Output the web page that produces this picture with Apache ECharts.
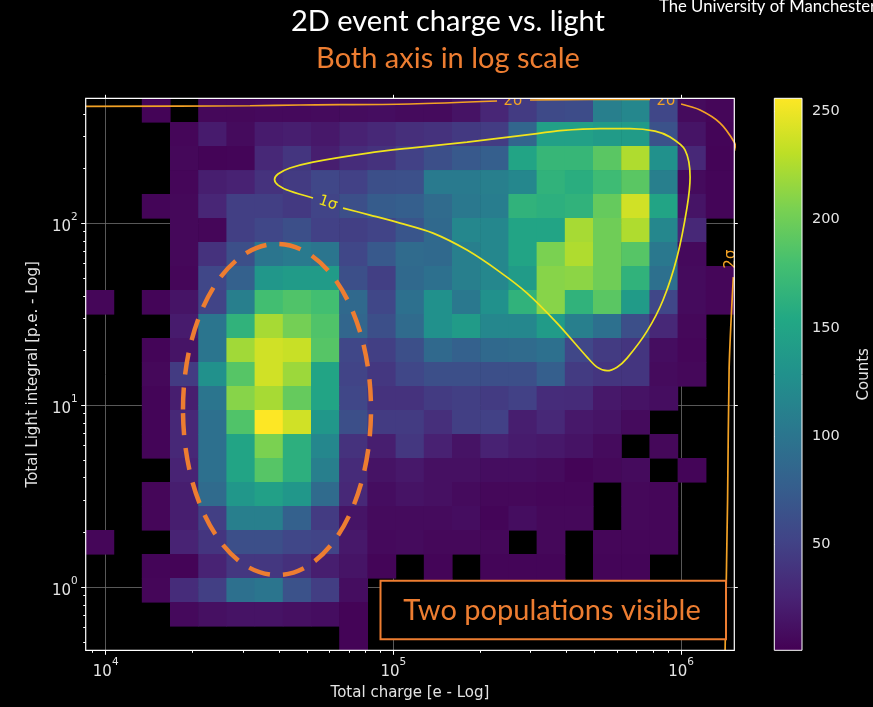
<!DOCTYPE html>
<html>
<head>
<meta charset="utf-8">
<script src="https://cdn.jsdelivr.net/npm/echarts@6/dist/echarts.min.js"></script>
<style>
html,body{margin:0;padding:0;background:#000;}
#chart{width:873px;height:707px;}
</style>
</head>
<body>
<div id="chart"></div>
<script>
// ---------------- data ----------------
// histogram bin edges (log-spaced), total charge [e]
const xEdges = [8520, 10680, 13383, 16771, 21014, 26341, 33010, 41370, 51840, 64970, 81420, 102050,
  127900, 160260, 200860, 251770, 315500, 395400, 495500, 621000, 778300, 975200, 1222300, 1531700];
// histogram bin edges (log-spaced), total light integral [p.e.], ascending
const yEdges = [0.4504, 0.6103, 0.8268, 1.1202, 1.5178, 2.0565, 2.7861, 3.7757, 5.1146, 6.9295, 9.3893,
  12.720, 17.236, 23.350, 31.637, 42.866, 58.076, 78.685, 106.61, 144.45, 195.69, 265.17, 359.30, 486.9];
// counts per bin; rows listed from the TOP (highest light) to the bottom, columns left to right
const counts = [
  [0,0,3,0,6,6,7,7,8,9,10,8,8,14,28,45,58,60,110,118,55,8,5],
  [0,0,0,5,20,8,20,22,18,25,30,35,38,43,46,85,145,145,140,140,65,15,4],
  [0,0,0,6,3,4,30,40,22,33,38,50,62,72,78,150,170,170,190,225,128,30,3],
  [0,0,0,5,22,25,38,45,55,50,62,63,105,105,110,118,165,160,175,190,110,8,4],
  [0,0,4,6,28,48,48,43,52,62,75,78,90,103,108,165,162,165,195,238,150,15,4],
  [0,0,0,6,5,48,55,62,50,48,52,68,88,118,118,150,150,222,200,225,118,30,0],
  [0,0,0,6,38,62,100,105,100,55,72,90,88,110,118,150,205,225,200,188,103,7,0],
  [0,0,0,5,55,80,135,140,140,62,48,88,95,110,118,140,210,212,200,165,95,8,5],
  [5,0,4,15,52,110,178,185,178,88,55,95,128,103,128,165,210,165,190,140,55,8,5],
  [0,0,0,20,100,165,222,202,185,85,62,90,128,140,118,118,140,110,95,62,30,6,0],
  [0,0,4,15,100,220,238,235,188,55,48,62,88,80,88,90,95,55,45,40,10,5,0],
  [0,0,6,45,128,188,238,218,150,52,42,55,62,62,62,62,78,45,40,40,8,6,0],
  [0,0,4,22,100,210,222,195,150,55,38,38,45,48,45,50,33,32,18,14,10,0,0],
  [0,0,4,30,95,185,256,238,135,62,45,45,35,48,50,22,30,18,15,8,0,0,0],
  [0,0,4,30,95,150,205,162,118,38,22,42,24,14,25,20,18,14,8,0,6,0,0],
  [0,0,0,26,95,150,188,162,110,32,14,18,12,12,10,10,8,3,6,8,0,4,0],
  [0,0,5,22,90,135,145,135,90,30,10,14,12,8,6,6,5,5,0,6,5,0,0],
  [0,0,5,22,48,110,110,80,45,15,8,8,8,10,4,10,6,6,0,6,5,0,0],
  [5,0,0,26,40,62,62,55,52,18,7,8,6,6,6,0,6,0,5,5,5,0,0],
  [0,0,4,3,26,42,42,36,22,15,4,0,4,0,4,4,4,0,4,4,0,0,0],
  [0,0,5,33,48,95,100,65,47,10,0,0,4,0,4,4,4,0,4,4,0,0,0],
  [0,0,0,7,12,14,14,12,10,3,0,0,0,0,0,0,0,0,0,0,0,0,0],
  [0,0,0,0,0,0,0,0,0,3,0,0,0,0,0,0,0,0,0,0,0,0,0]
];
const countRange = [1, 256];

// tick values
const xMajorTicks = [1e4, 1e5, 1e6];
const xMinorTicks = [9000, 20000, 30000, 40000, 50000, 60000, 70000, 80000, 90000,
  200000, 300000, 400000, 500000, 600000, 700000, 800000, 900000];
const yMajorTicks = [1, 10, 100];
const yMinorTicks = [0.5, 0.6, 0.7, 0.8, 0.9, 2, 3, 4, 5, 6, 7, 8, 9, 20, 30, 40, 50, 60, 70, 80, 90, 200, 300, 400];
const colorbarTicks = [50, 100, 150, 200, 250];

// 1 sigma contour [charge, light]
const sigma1 = [
  [66830,121.3],[82930,111.1],[105470,100.4],[137340,88.4],[180340,71.3],[234900,54.0],[291500,41.4],
  [370700,28.3],[471300,18.4],[510500,16.21],[553000,15.51],[599200,16.21],[649300,18.17],[762000,25.57],
  [866100,37.9],[968900,65.3],[1049600,122.9],[1075200,179.8],[1033000,253.0],[916000,298.2],[812300,321.7],
  [665200,332.0],[523000,332.0],[379700,323.7],[315800,311.7],[180340,279.9],[114290,259.4],[81650,243.5],
  [52560,217.3],[43720,201.4],[39720,186.7],[38630,174.1],[39720,162.4],[43720,150.5],[52560,137.8]
];
// 2 sigma contour pieces [charge, light]
const sigma2A = [[8520,440],[31740,443],[47380,447.2],[114290,452.9],[229300,470.4]];
const sigma2B = [[298600,476.4],[482900,479.6],[780500,480.8]];
const sigma2C = [[1000400,452.9],[1164700,419.8],[1367300,356.1],[1530000,280.0],[1560000,250]];
const sigma2D = [[1519900,50.66],[1492800,29.4],[1469200,15.6],[1451400,3.01],[1422800,0.45]];
// contour labels: text and anchor [charge, light]
const contourLabelText = ['1σ', '2σ', '2σ', '2σ'];
const contourLabelAnchor = [[59280,129.3],[260600,467.6],[887200,467.6],[1492200,63.6]];

// ---------------- styles ----------------
const viridis = ['#440154','#482475','#414487','#355f8d','#2a788e','#21918c','#22a884','#44bf70','#7ad151','#bddf26','#fde725'];
const c1 = '#f0e41c', c2 = '#f3a225', orange = '#ED7D31', txt = '#e4e4e4';
const labelRot = [-0.32, 0, 0, Math.PI / 2];
const labelColor = [c1, c2, c2, c2];

const heatData = [];
counts.forEach((row, r) => row.forEach((v, c) => {
  if (v > 0) heatData.push([xEdges[c], xEdges[c + 1], yEdges[22 - r], yEdges[23 - r], v]);
}));

const supFmt = v => '{b|10}{s|' + Math.round(Math.log10(v)) + '}';
const supRich = {
  b: {fontSize: 15, fontFamily: 'DejaVu Sans', color: txt, lineHeight: 23, verticalAlign: 'bottom'},
  s: {fontSize: 10.5, fontFamily: 'DejaVu Sans', color: txt, verticalAlign: 'top'}
};
const xMin = xEdges[0], xMax = xEdges[xEdges.length - 1], yMin = yEdges[0], yMax = yEdges[yEdges.length - 1];

function logAxis(extra, lo, hi) {
  return Object.assign({
    type: 'log', logBase: 10, min: lo, max: hi, gridIndex: 0,
    axisLine: {show: false}, splitLine: {show: false}, axisLabel: {show: false},
    axisTick: {show: false}
  }, extra);
}
const tickStyle = {color: '#ffffff', width: 1};
const nameStyle = {color: txt, fontSize: 15, fontFamily: 'DejaVu Sans'};

const chart = echarts.init(document.getElementById('chart'), null, {renderer: 'canvas'});
const option = {
  backgroundColor: '#000000',
  animation: false,
  grid: [
    {left: 85.7, top: 98.3, width: 648.6, height: 552, show: false},
    {left: 774.3, top: 98.3, width: 28.4, height: 552, show: false}
  ],
  xAxis: [
    logAxis({position: 'bottom',
      axisTick: {show: true, customValues: xMajorTicks, length: 4.5, inside: false, lineStyle: tickStyle},
      axisLabel: {show: true, customValues: xMajorTicks, formatter: supFmt, rich: supRich, margin: 6},
      splitLine: {show: true, customValues: xMajorTicks, lineStyle: {color: '#6e6e6e', width: 0.8}},
      name: 'Total charge [e - Log]', nameLocation: 'middle', nameGap: 35, nameTextStyle: nameStyle
    }, xMin, xMax),
    logAxis({position: 'bottom',
      axisTick: {show: true, customValues: xMinorTicks, length: 2.5, lineStyle: tickStyle}}, xMin, xMax),
    logAxis({position: 'top',
      axisTick: {show: true, customValues: xMajorTicks, length: 3.5, lineStyle: tickStyle}}, xMin, xMax),
    {type: 'value', gridIndex: 1, min: 0, max: 1, show: false}
  ],
  yAxis: [
    logAxis({position: 'left',
      axisTick: {show: true, customValues: yMajorTicks, length: 4.5, lineStyle: tickStyle},
      axisLabel: {show: true, customValues: yMajorTicks, formatter: supFmt, rich: supRich, margin: 8},
      splitLine: {show: true, customValues: yMajorTicks, lineStyle: {color: '#6e6e6e', width: 0.8}},
      name: 'Total Light integral [p.e. - Log]', nameLocation: 'middle', nameGap: 44, nameRotate: 90,
      nameTextStyle: nameStyle
    }, yMin, yMax),
    logAxis({position: 'left',
      axisTick: {show: true, customValues: yMinorTicks, length: 2.5, lineStyle: tickStyle}}, yMin, yMax),
    logAxis({position: 'right',
      axisTick: {show: true, customValues: yMajorTicks, length: 3.5, lineStyle: tickStyle}}, yMin, yMax),
    {type: 'value', gridIndex: 1, min: countRange[0], max: countRange[1], position: 'right',
      axisLine: {show: false}, splitLine: {show: false},
      axisTick: {show: true, customValues: colorbarTicks, length: 5, lineStyle: tickStyle},
      axisLabel: {show: true, customValues: colorbarTicks, margin: 10, color: txt, fontSize: 14.5, fontFamily: 'DejaVu Sans'},
      name: 'Counts', nameLocation: 'middle', nameGap: 55, nameRotate: 90, nameTextStyle: nameStyle
    }
  ],
  visualMap: {
    type: 'continuous', show: false, min: countRange[0], max: countRange[1],
    dimension: 4, seriesIndex: 0, inRange: {color: viridis}
  },
  series: [
    { // 2D histogram
      type: 'custom', xAxisIndex: 0, yAxisIndex: 0, z: 2, silent: true,
      data: heatData, encode: {x: [0, 1], y: [2, 3]},
      renderItem: (params, api) => {
        const p0 = api.coord([api.value(0), api.value(3)]);
        const p1 = api.coord([api.value(1), api.value(2)]);
        return {type: 'rect', shape: {x: p0[0] - 0.3, y: p0[1] - 0.3, width: p1[0] - p0[0] + 0.6, height: p1[1] - p0[1] + 0.6},
          style: {fill: api.visual('color')}};
      }
    },
    {type: 'line', name: '1σ', xAxisIndex: 0, yAxisIndex: 0, data: sigma1, symbol: 'none', smooth: 0.3, clip: true, z: 5,
      lineStyle: {color: c1, width: 1.7}, silent: true},
    {type: 'line', name: '2σ', xAxisIndex: 0, yAxisIndex: 0, data: sigma2A, symbol: 'none', smooth: 0.3, clip: true, z: 5,
      lineStyle: {color: c2, width: 1.7}, silent: true},
    {type: 'line', name: '2σ', xAxisIndex: 0, yAxisIndex: 0, data: sigma2B, symbol: 'none', smooth: 0.3, clip: true, z: 5,
      lineStyle: {color: c2, width: 1.7}, silent: true},
    {type: 'line', name: '2σ', xAxisIndex: 0, yAxisIndex: 0, data: sigma2C, symbol: 'none', smooth: 0.3, clip: true, z: 5,
      lineStyle: {color: c2, width: 1.7}, silent: true},
    {type: 'line', name: '2σ', xAxisIndex: 0, yAxisIndex: 0, data: sigma2D, symbol: 'none', smooth: 0.3, clip: true, z: 5,
      lineStyle: {color: c2, width: 1.7}, silent: true},
    { // contour labels
      type: 'custom', xAxisIndex: 0, yAxisIndex: 0, z: 6, clip: true, silent: true,
      data: contourLabelAnchor,
      renderItem: (params, api) => {
        const i = params.dataIndex;
        const p = api.coord([api.value(0), api.value(1)]);
        return {type: 'text', x: p[0], y: p[1], rotation: labelRot[i],
          style: {text: contourLabelText[i], fill: labelColor[i], font: '15px "DejaVu Sans"',
            align: 'center', verticalAlign: 'middle', textAlign: 'center', textVerticalAlign: 'middle'}};
      }
    },
    { // plot frame
      type: 'custom', xAxisIndex: 0, yAxisIndex: 0, z: 10, silent: true,
      data: [[xMin, xMax, yMin, yMax]], encode: {x: [0, 1], y: [2, 3]},
      renderItem: (params, api) => {
        const p0 = api.coord([api.value(0), api.value(3)]);
        const p1 = api.coord([api.value(1), api.value(2)]);
        return {type: 'rect', shape: {x: p0[0], y: p0[1], width: p1[0] - p0[0], height: p1[1] - p0[1]},
          style: {fill: null, stroke: '#ffffff', lineWidth: 1.2}};
      }
    },
    { // colorbar
      type: 'custom', xAxisIndex: 3, yAxisIndex: 3, z: 3, silent: true,
      data: [[0, 1, countRange[0], countRange[1]]], encode: {x: [0, 1], y: [2, 3]},
      renderItem: (params, api) => {
        const p0 = api.coord([api.value(0), api.value(3)]);
        const p1 = api.coord([api.value(1), api.value(2)]);
        return {type: 'rect', shape: {x: p0[0], y: p0[1], width: p1[0] - p0[0], height: p1[1] - p0[1]},
          style: {
            fill: new echarts.graphic.LinearGradient(0, 1, 0, 0,
              viridis.map((c, i) => ({offset: i / (viridis.length - 1), color: c}))),
            stroke: '#ffffff', lineWidth: 1
          }};
      }
    }
  ],
  graphic: [
    {type: 'text', x: 448, y: 22, z: 100,
      style: {text: '2D event charge vs. light', fill: '#ffffff', font: '29px Lato',
        align: 'center', verticalAlign: 'middle', textAlign: 'center', textVerticalAlign: 'middle'}},
    {type: 'text', x: 448, y: 59, z: 100,
      style: {text: 'Both axis in log scale', fill: orange, font: '29px Lato',
        align: 'center', verticalAlign: 'middle', textAlign: 'center', textVerticalAlign: 'middle'}},
    {type: 'text', x: 659, y: 6.5, z: 100,
      style: {text: 'The University of Manchester', fill: '#ffffff', font: '16.7px Lato',
        align: 'left', verticalAlign: 'middle', textAlign: 'left', textVerticalAlign: 'middle'}},
    {type: 'ellipse', z: 100, shape: {cx: 277, cy: 409.5, rx: 94, ry: 165.5},
      style: {fill: null, stroke: orange, lineWidth: 4.5, lineDash: [22, 13]}},
    {type: 'rect', z: 100, shape: {x: 380.5, y: 580.7, width: 345.5, height: 58.6},
      style: {fill: '#000000', stroke: orange, lineWidth: 2}},
    {type: 'text', x: 552, y: 611, z: 101,
      style: {text: 'Two populations visible', fill: orange, font: '29px Lato',
        align: 'center', verticalAlign: 'middle', textAlign: 'center', textVerticalAlign: 'middle'}}
  ]
};
chart.setOption(option);
</script>
</body>
</html>
